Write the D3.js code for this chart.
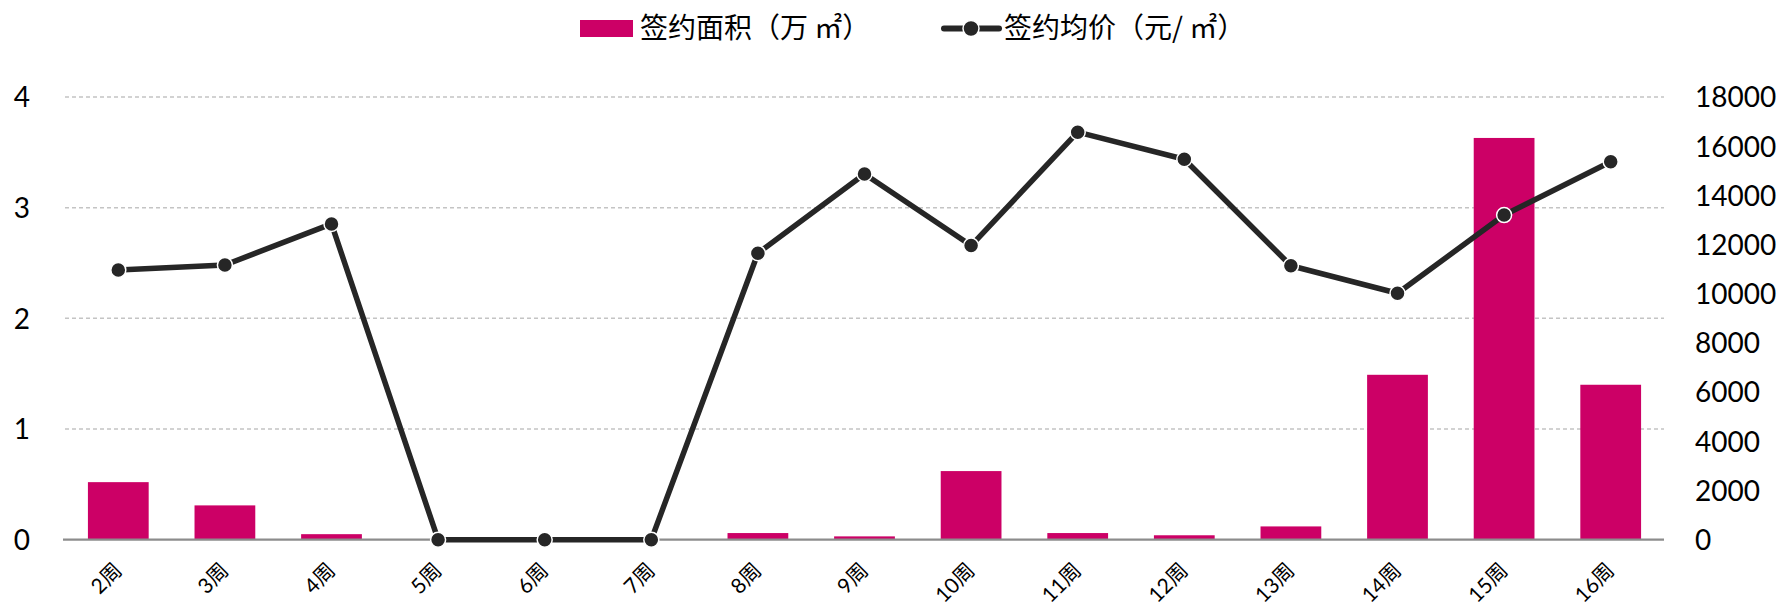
<!DOCTYPE html>
<html>
<head>
<meta charset="utf-8">
<script src="https://cdn.jsdelivr.net/npm/d3@7"></script>
<style>
  html, body { margin: 0; padding: 0; background: #fff; }
  svg { display: block; }
</style>
</head>
<body>
<svg id="chart" width="1784" height="610"></svg>
<script>
const categories = ['2周','3周','4周','5周','6周','7周','8周','9周','10周','11周','12周','13周','14周','15周','16周'];
const areaValues = [0.52, 0.31, 0.05, 0, 0, 0, 0.06, 0.03, 0.62, 0.06, 0.04, 0.12, 1.49, 3.63, 1.40];
const priceValues = [10970, 11170, 12840, 0, 0, 0, 11650, 14870, 11960, 16570, 15470, 11140, 10020, 13200, 15370];
const leftTicks = [0, 1, 2, 3, 4];
const rightTicks = [0, 2000, 4000, 6000, 8000, 10000, 12000, 14000, 16000, 18000];
const seriesNames = ['签约面积（万 ㎡）', '签约均价（元/ ㎡）'];

(function () {
const barColor = '#CC0066';
const lineColor = '#262626';
const numFont = "Lato, 'Noto Sans CJK SC', sans-serif";
const cjkFont = "'Noto Sans CJK SC', Lato, sans-serif";

const svg = d3.select('#chart');
const pLeft = 65, pRight = 1664, pTop = 97, pBottom = 539.7;

const x = d3.scaleBand().domain(categories).range([pLeft, pRight]).paddingInner(0.43).paddingOuter(0.215);
const yL = d3.scaleLinear().domain([0, 4]).range([pBottom, pTop]);
const yR = d3.scaleLinear().domain([0, 18000]).range([pBottom, pTop]);

// gridlines
svg.append('g').selectAll('line').data(leftTicks.filter(d => d > 0)).join('line')
  .attr('x1', pLeft).attr('x2', pRight)
  .attr('y1', d => yL(d)).attr('y2', d => yL(d))
  .attr('stroke', '#c4c4c4').attr('stroke-width', 1.5).attr('stroke-dasharray', '4,3');

// bars
svg.append('g').selectAll('rect').data(categories).join('rect')
  .attr('x', c => x(c))
  .attr('width', x.bandwidth())
  .attr('y', (c, i) => yL(areaValues[i]))
  .attr('height', (c, i) => pBottom - yL(areaValues[i]))
  .attr('fill', barColor);

// x axis
const xAxis = svg.append('g').attr('transform', `translate(0,${pBottom})`)
  .call(d3.axisBottom(x).tickSize(0).tickPadding(0));
xAxis.select('.domain').attr('stroke', '#8c8c8c').attr('stroke-width', 2.2).attr('d', `M${pLeft - 2},0H${pRight}`);
xAxis.selectAll('text')
  .attr('x', 0).attr('y', 0).attr('dy', 0)
  .attr('text-anchor', 'end')
  .attr('transform', 'translate(5,32) rotate(-45)')
  .style('font-family', numFont).style('font-size', '21px').attr('fill', '#000');

// left axis
const yAxisL = svg.append('g').attr('transform', 'translate(30,0)')
  .call(d3.axisLeft(yL).tickValues(leftTicks).tickSize(0).tickPadding(0).tickFormat(d3.format('d')));
yAxisL.select('.domain').remove();
yAxisL.selectAll('text').attr('dy', '0.35em')
  .style('font-family', numFont).style('font-size', '28px').attr('fill', '#000');

// right axis
const yAxisR = svg.append('g').attr('transform', 'translate(1695,0)')
  .call(d3.axisRight(yR).tickValues(rightTicks).tickSize(0).tickPadding(0).tickFormat(d3.format('d')));
yAxisR.select('.domain').remove();
yAxisR.selectAll('text').attr('dy', '0.35em')
  .style('font-family', numFont).style('font-size', '28px').attr('fill', '#000');

// line
const cx = c => x(c) + x.bandwidth() / 2;
const line = d3.line().x(d => cx(d.c)).y(d => yR(d.v));
const pts = categories.map((c, i) => ({ c, v: priceValues[i] }));
svg.append('path').datum(pts).attr('d', line)
  .attr('fill', 'none').attr('stroke', lineColor).attr('stroke-width', 5.5).attr('stroke-linejoin', 'round');
svg.append('g').selectAll('circle').data(pts).join('circle')
  .attr('cx', d => cx(d.c)).attr('cy', d => yR(d.v)).attr('r', 7.5)
  .attr('fill', lineColor).attr('stroke', '#fff').attr('stroke-width', 1.5);

// legend
const lg = svg.append('g');
lg.append('rect').attr('x', 580).attr('y', 20).attr('width', 53).attr('height', 17).attr('fill', barColor);
lg.append('text').attr('x', 640).attr('y', 28.5).attr('dy', '0.35em').text(seriesNames[0])
  .style('font-family', cjkFont).style('font-size', '28px').attr('fill', '#000');
lg.append('line').attr('x1', 944).attr('x2', 999).attr('y1', 28.5).attr('y2', 28.5)
  .attr('stroke', lineColor).attr('stroke-width', 6).attr('stroke-linecap', 'round');
lg.append('circle').attr('cx', 971).attr('cy', 28.5).attr('r', 8)
  .attr('fill', lineColor).attr('stroke', '#fff').attr('stroke-width', 1.5);
lg.append('text').attr('x', 1004).attr('y', 28.5).attr('dy', '0.35em').text(seriesNames[1])
  .style('font-family', cjkFont).style('font-size', '28px').attr('fill', '#000');
})();
</script>
</body>
</html>
